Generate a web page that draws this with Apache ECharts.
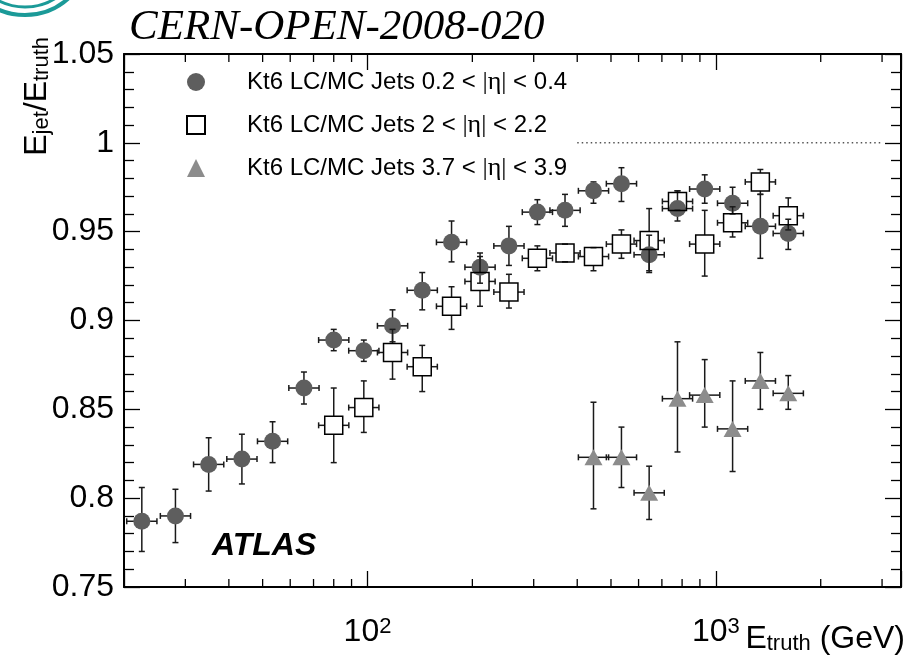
<!DOCTYPE html>
<html><head><meta charset="utf-8">
<script src="https://cdn.jsdelivr.net/npm/echarts@6/dist/echarts.min.js"></script>
<style>html,body{margin:0;padding:0;background:#fff}#c{width:909px;height:659px}</style>
</head><body><div id="c"></div>
<script>
// ---------------- data ----------------
const seriesNames = [
  'Kt6 LC/MC Jets 0.2 < |η| < 0.4',
  'Kt6 LC/MC Jets 2 < |η| < 2.2',
  'Kt6 LC/MC Jets 3.7 < |η| < 3.9'
];
// central eta 0.2-0.4 (filled circles)
const eCentral      = [22.5, 28.1, 35.0, 43.6, 53.4, 65.7, 80.0, 97.6, 118, 143.6, 174.3, 210.4, 254.7, 307.4, 369, 445.4, 535.8, 643.5, 776, 929, 1117, 1342, 1614];
const rCentral      = [0.787, 0.790, 0.819, 0.822, 0.832, 0.862, 0.889, 0.883, 0.897, 0.917, 0.944, 0.930, 0.942, 0.961, 0.962, 0.973, 0.977, 0.937, 0.963, 0.974, 0.966, 0.953, 0.949];
const rCentralLo    = [0.770, 0.775, 0.804, 0.808, 0.820, 0.853, 0.883, 0.877, 0.888, 0.906, 0.933, 0.921, 0.931, 0.954, 0.953, 0.966, 0.967, 0.927, 0.956, 0.966, 0.960, 0.935, 0.940];
const rCentralHi    = [0.806, 0.805, 0.834, 0.836, 0.843, 0.871, 0.895, 0.889, 0.906, 0.927, 0.956, 0.938, 0.953, 0.968, 0.971, 0.978, 0.986, 0.948, 0.973, 0.982, 0.975, 0.971, 0.957];
// eta 2-2.2 (open squares)
const eEndcap       = [80.0, 97.6, 118, 143.6, 174.3, 210.4, 254.7, 307.4, 369, 445.4, 535.8, 643.5, 776, 929, 1117, 1342, 1614];
const rEndcap       = [0.841, 0.851, 0.882, 0.874, 0.908, 0.922, 0.916, 0.935, 0.938, 0.936, 0.943, 0.945, 0.967, 0.943, 0.955, 0.978, 0.959];
const rEndcapLo     = [0.820, 0.837, 0.867, 0.860, 0.895, 0.908, 0.907, 0.928, 0.933, 0.928, 0.935, 0.928, 0.962, 0.925, 0.947, 0.971, 0.951];
const rEndcapHi     = [0.862, 0.866, 0.895, 0.886, 0.919, 0.936, 0.926, 0.942, 0.943, 0.941, 0.951, 0.963, 0.973, 0.962, 0.964, 0.985, 0.969];
// eta 3.7-3.9 (triangles)
const eForward      = [445.4, 535.8, 643.5, 776, 929, 1117, 1342, 1614];
const rForward      = [0.823, 0.823, 0.803, 0.856, 0.858, 0.839, 0.866, 0.859];
const rForwardLo    = [0.794, 0.806, 0.788, 0.826, 0.840, 0.815, 0.850, 0.850];
const rForwardHi    = [0.854, 0.840, 0.818, 0.888, 0.878, 0.866, 0.882, 0.869];
// horizontal error (bin half width as multiplicative factor)
const xHalfBinFactor = 1.105;
// axes
const xMin = 20, xMax = 3400;
const yMin = 0.75, yMax = 1.05, yStep = 0.05;
const xMinorTicks = [30, 40, 50, 60, 70, 80, 90, 200, 300, 400, 500, 600, 700, 800, 900, 2000, 3000];
const xMajorLabels = {100: '2', 1000: '3'};
const refLineE = [400, 3000];
const refLineValue = 1;

// ---------------- chart ----------------
const FONT = 'Liberation Sans, Arial, Helvetica, sans-serif';
const chart = echarts.init(document.getElementById('c'), null, {renderer: 'canvas'});

function rows(es, rs, lo, hi) { return es.map((e, i) => [e, rs[i], lo[i], hi[i]]); }

function errRender(gap) {
  return function (params, api) {
    const e = api.value(0), v = api.value(1), lo = api.value(2), hi = api.value(3);
    const c = api.coord([e, v]);
    const pl = api.coord([e, lo]), ph = api.coord([e, hi]);
    const xl = api.coord([e / xHalfBinFactor, v]), xr = api.coord([e * xHalfBinFactor, v]);
    const cap = 3;
    const style = {stroke: '#1a1a1a', lineWidth: 1.5};
    const kids = [];
    const seg = (x1, y1, x2, y2) => kids.push({type: 'line', shape: {x1, y1, x2, y2}, style});
    if (ph[1] < c[1] - gap) seg(c[0], c[1] - gap, c[0], ph[1]);
    if (pl[1] > c[1] + gap) seg(c[0], c[1] + gap, c[0], pl[1]);
    seg(c[0] - cap, ph[1], c[0] + cap, ph[1]);
    seg(c[0] - cap, pl[1], c[0] + cap, pl[1]);
    if (xl[0] < c[0] - gap) seg(xl[0], c[1], c[0] - gap, c[1]);
    if (xr[0] > c[0] + gap) seg(c[0] + gap, c[1], xr[0], c[1]);
    seg(xl[0], c[1] - cap, xl[0], c[1] + cap);
    seg(xr[0], c[1] - cap, xr[0], c[1] + cap);
    return {type: 'group', children: kids};
  };
}

function minorTickRender(params, api) {
  const x = api.value(0);
  const pb = api.coord([x, yMin]);
  const pt = api.coord([x, yMax]);
  const style = {stroke: '#000', lineWidth: 1.3};
  return {type: 'group', children: [
    {type: 'line', shape: {x1: pb[0], y1: pb[1], x2: pb[0], y2: pb[1] - 8}, style},
    {type: 'line', shape: {x1: pt[0], y1: pt[1], x2: pt[0], y2: pt[1] + 8}, style}
  ]};
}

const axisLine = {show: true, lineStyle: {color: '#000', width: 2}};

const option = {
  backgroundColor: '#fff',
  animation: false,
  grid: {left: 124, right: 8, top: 54, bottom: 72, containLabel: false},
  xAxis: [
    {
      type: 'log', logBase: 10, min: xMin, max: xMax, position: 'bottom',
      axisLine, splitLine: {show: false},
      axisTick: {show: true, inside: true, length: 16, lineStyle: {color: '#000', width: 1.3}},
      axisLabel: {
        margin: 29, color: '#000', fontFamily: FONT,
        formatter: (v) => {
          for (const k in xMajorLabels) {
            if (Math.abs(v / Number(k) - 1) < 1e-6) return '{b|10}{p|' + xMajorLabels[k] + '}';
          }
          return '';
        },
        rich: {
          b: {fontSize: 32, fontFamily: FONT, lineHeight: 32, verticalAlign: 'bottom', color: '#000'},
          p: {fontSize: 22, fontFamily: FONT, lineHeight: 12, verticalAlign: 'top', color: '#000'}
        }
      }
    },
    {
      type: 'log', logBase: 10, min: xMin, max: xMax, position: 'top',
      axisLine, splitLine: {show: false},
      axisTick: {show: true, inside: true, length: 16, lineStyle: {color: '#000', width: 1.3}},
      axisLabel: {show: false}
    }
  ],
  yAxis: [
    {
      type: 'value', min: yMin, max: yMax, interval: yStep, position: 'left',
      axisLine, splitLine: {show: false},
      axisTick: {show: true, inside: true, length: 16, lineStyle: {color: '#000', width: 1.3}},
      minorTick: {show: true, splitNumber: 5, length: 10, lineStyle: {color: '#000', width: 1.3}},
      axisLabel: {margin: 10, fontSize: 32, fontFamily: FONT, color: '#000'}
    },
    {
      type: 'value', min: yMin, max: yMax, interval: yStep, position: 'right',
      axisLine, splitLine: {show: false},
      axisTick: {show: true, inside: true, length: 16, lineStyle: {color: '#000', width: 1.3}},
      minorTick: {show: true, splitNumber: 5, length: 10, lineStyle: {color: '#000', width: 1.3}},
      axisLabel: {show: false}
    }
  ],
  legend: {
    show: true, orient: 'vertical', left: 181, top: 64, padding: 5,
    itemWidth: 18, itemHeight: 18, itemGap: 17,
    data: seriesNames,
    textStyle: {fontSize: 24, fontFamily: FONT, color: '#000', lineHeight: 26, padding: [0, 0, 0, 37],
      rich: {g: {fontSize: 26, fontFamily: 'Liberation Serif, serif', color: '#000'}}},
    formatter: (name) => name.replace('|η|', '{g||η|}')
  },
  series: [
    {
      type: 'custom', name: 'minorTicks', silent: true, xAxisIndex: 0, yAxisIndex: 0,
      data: xMinorTicks.map(v => [v, yMin]), encode: {x: 0, y: 1},
      renderItem: minorTickRender, z: 10
    },
    {
      type: 'line', name: 'ref', silent: true, symbol: 'none',
      data: refLineE.map(e => [e, refLineValue]),
      lineStyle: {color: '#000', width: 1, type: [1.5, 3]}
    },
    {
      type: 'custom', name: 'errCentral', silent: true,
      data: rows(eCentral, rCentral, rCentralLo, rCentralHi), encode: {x: 0, y: 1},
      renderItem: errRender(0), z: 2
    },
    {
      type: 'scatter', name: seriesNames[0], symbol: 'circle', symbolSize: 17,
      data: eCentral.map((e, i) => [e, rCentral[i]]),
      itemStyle: {color: '#5e5e5e', opacity: 1}, z: 3
    },
    {
      type: 'custom', name: 'errEndcap', silent: true,
      data: rows(eEndcap, rEndcap, rEndcapLo, rEndcapHi), encode: {x: 0, y: 1},
      renderItem: errRender(9), z: 4
    },
    {
      type: 'scatter', name: seriesNames[1], symbol: 'rect', symbolSize: 18,
      data: eEndcap.map((e, i) => [e, rEndcap[i]]),
      itemStyle: {color: 'rgba(255,255,255,0)', borderColor: '#000', borderWidth: 1.5, opacity: 1}, z: 5
    },
    {
      type: 'custom', name: 'errForward', silent: true,
      data: rows(eForward, rForward, rForwardLo, rForwardHi), encode: {x: 0, y: 1},
      renderItem: errRender(0), z: 6
    },
    {
      type: 'scatter', name: seriesNames[2], symbol: 'triangle', symbolSize: [18, 16],
      data: eForward.map((e, i) => [e, rForward[i]]),
      itemStyle: {color: '#8c8c8c', opacity: 1}, z: 7
    }
  ],
  graphic: [
    {type: 'circle', shape: {cx: 25, cy: -50, r: 65}, style: {fill: 'none', stroke: '#1b9a98', lineWidth: 4}, silent: true},
    {type: 'circle', shape: {cx: 25, cy: -50, r: 57}, style: {fill: 'none', stroke: '#1b9a98', lineWidth: 3}, silent: true},
    {type: 'text', x: 129, y: 28, silent: true,
      style: {text: 'CERN-OPEN-2008-020', font: 'italic 43px "Liberation Serif", serif', fill: '#000', verticalAlign: 'middle', align: 'left'}},
    {type: 'text', x: 212, y: 546, silent: true,
      style: {text: 'ATLAS', font: 'italic bold 32px "Liberation Sans", Arial, sans-serif', fill: '#000', verticalAlign: 'middle', align: 'left'}},
    {type: 'text', x: 37, y: 37, rotation: Math.PI / 2, silent: true,
      style: {text: '{m|E}{s|jet}{m|/E}{s|truth}', align: 'right', verticalAlign: 'middle',
        rich: {
          m: {fontSize: 32, fontFamily: FONT, fill: '#000', lineHeight: 32, verticalAlign: 'top'},
          s: {fontSize: 22, fontFamily: FONT, fill: '#000', lineHeight: 12, verticalAlign: 'bottom'}
        }}},
    {type: 'text', x: 905, y: 639, silent: true,
      style: {text: '{m|E}{s|truth}{m| (GeV)}', align: 'right', verticalAlign: 'middle',
        rich: {
          m: {fontSize: 32, fontFamily: FONT, fill: '#000', lineHeight: 32, verticalAlign: 'top'},
          s: {fontSize: 22, fontFamily: FONT, fill: '#000', lineHeight: 12, verticalAlign: 'bottom'}
        }}}
  ]
};
chart.setOption(option);
</script>
</body></html>
